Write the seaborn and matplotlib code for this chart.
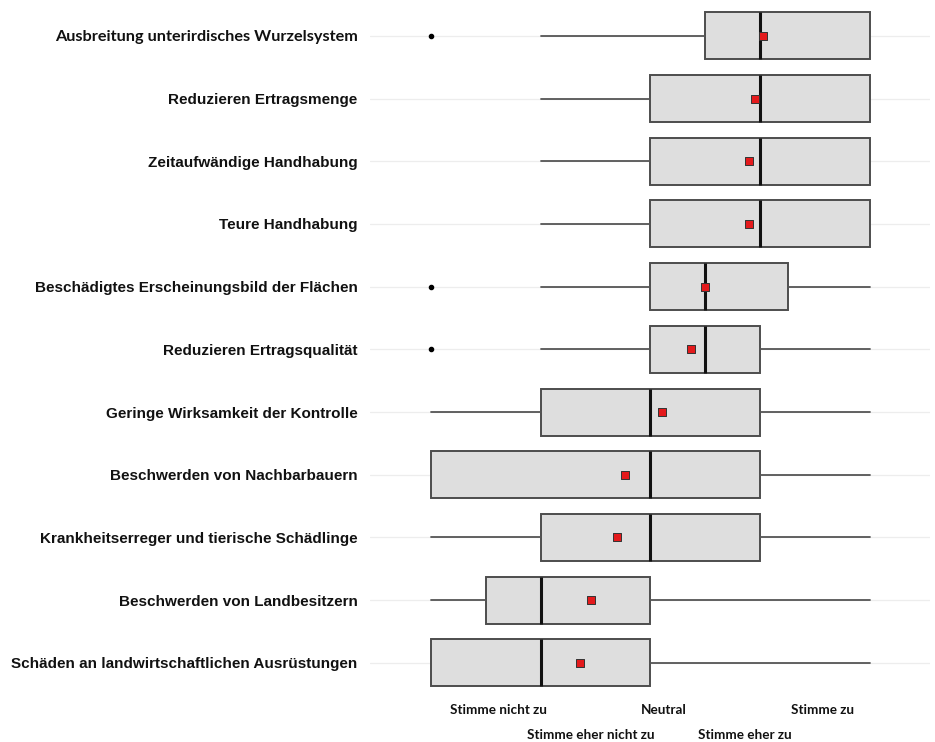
import matplotlib
matplotlib.use("Agg")
import matplotlib.pyplot as plt
import seaborn as sns

items = [
    "Ausbreitung unterirdisches Wurzelsystem",
    "Reduzieren Ertragsmenge",
    "Zeitaufwändige Handhabung",
    "Teure Handhabung",
    "Beschädigtes Erscheinungsbild der Flächen",
    "Reduzieren Ertragsqualität",
    "Geringe Wirksamkeit der Kontrolle",
    "Beschwerden von Nachbarbauern",
    "Krankheitserreger und tierische Schädlinge",
    "Beschwerden von Landbesitzern",
    "Schäden an landwirtschaftlichen Ausrüstungen",
]
whisker_low = [2, 2, 2, 2, 2, 2, 1, 1, 1, 1, 1]
q1 = [3.5, 3, 3, 3, 3, 3, 2, 1, 2, 1.5, 1]
median = [4, 4, 4, 4, 3.5, 3.5, 3, 3, 3, 2, 2]
q3 = [5, 5, 5, 5, 4.25, 4, 4, 4, 4, 3, 3]
whisker_high = [5, 5, 5, 5, 5, 5, 5, 5, 5, 5, 5]
means = [4.03, 3.95, 3.90, 3.90, 3.50, 3.37, 3.11, 2.77, 2.70, 2.46, 2.36]
outliers = [[1], [], [], [], [1], [1], [], [], [], [], []]

scale_labels_upper = ["Stimme nicht zu", "Neutral", "Stimme zu"]
scale_labels_lower = ["Stimme eher nicht zu", "Stimme eher zu"]
upper_pos = [1.62, 3.12, 4.57]
lower_pos = [2.46, 3.86]

sns.set_theme(style="white")
plt.rcParams['font.family'] = ['Liberation Sans', 'DejaVu Sans']

fig = plt.figure(figsize=(9.35, 7.42), dpi=100)
ax = fig.add_axes([370 / 935, 42 / 742, 560 / 935, 700 / 742])

positions = list(range(len(items)))
stats = []
for i in positions:
    stats.append(dict(whislo=whisker_low[i], q1=q1[i], med=median[i],
                      q3=q3[i], whishi=whisker_high[i], fliers=outliers[i],
                      label=items[i]))

ax.bxp(stats, positions=positions, orientation='horizontal', widths=0.75,
       patch_artist=True, showcaps=False,
       boxprops=dict(facecolor='#DEDEDE', edgecolor='#4D4D4D', linewidth=1.4),
       medianprops=dict(color='#111111', linewidth=2.2),
       whiskerprops=dict(color='#555555', linewidth=1.3),
       flierprops=dict(marker='o', markersize=3, markerfacecolor='black',
                       markeredgecolor='black'))

sns.scatterplot(x=means, y=positions, marker='s', s=26, color='#E41A1C',
                edgecolor='#333333', linewidth=0.7, zorder=5, ax=ax, legend=False)

ax.set_xlim(0.447, 5.547)
ax.set_ylim(10.595, -0.574)
ax.set_yticks(positions)
ax.set_yticklabels(items, fontsize=11, fontweight='bold', color='#111111')
first = ax.get_yticklabels()[0]
first.set_fontfamily(['Lato', 'DejaVu Sans'])
first.set_fontsize(11.7)
ax.tick_params(axis='y', length=0, pad=9)

ax.set_xticks(upper_pos)
ax.set_xticklabels(scale_labels_upper, fontsize=9.7, fontweight='bold',
                   color='#111111', family=['Lato', 'DejaVu Sans'])
ax.set_xticks(lower_pos, minor=True)
ax.set_xticklabels(scale_labels_lower, minor=True, fontsize=9.7,
                   fontweight='bold', color='#111111',
                   family=['Lato', 'DejaVu Sans'])
ax.tick_params(axis='x', which='major', length=0, pad=3)
ax.tick_params(axis='x', which='minor', length=0, pad=21)

ax.grid(False)
for p in positions:
    ax.axhline(p, color='#EDEDED', linewidth=0.9, zorder=0)
for s in ax.spines.values():
    s.set_visible(False)
ax.set_xlabel("")
ax.set_ylabel("")

fig.savefig("out.png", dpi=100)
